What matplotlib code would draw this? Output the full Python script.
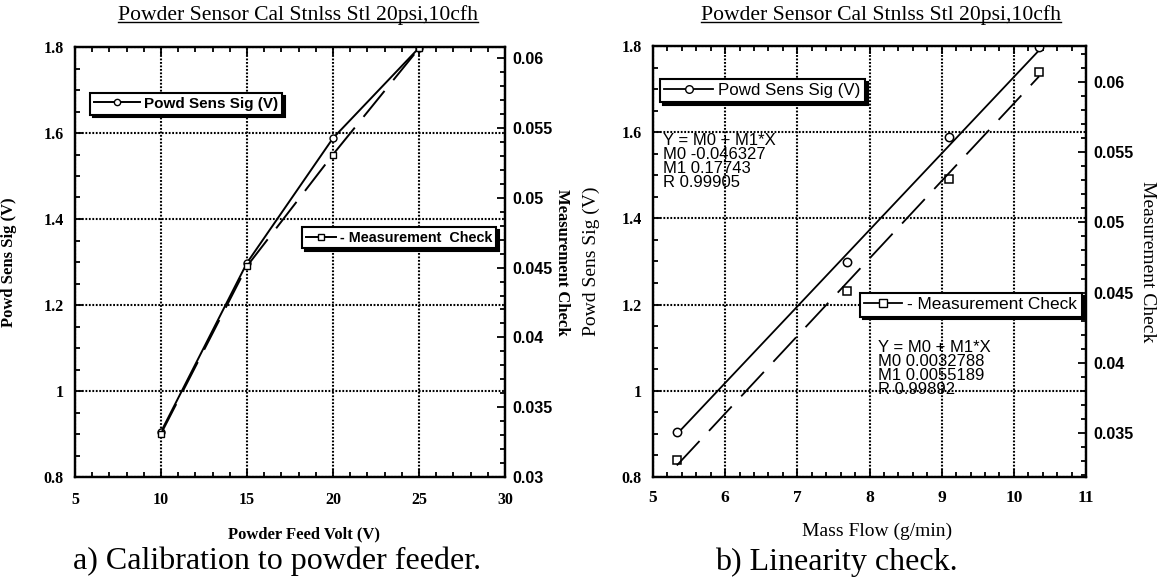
import matplotlib
matplotlib.use('Agg')
import matplotlib.pyplot as plt
from matplotlib.lines import Line2D
from matplotlib.ticker import MultipleLocator

# data
feed_volt = [10, 15, 20, 25]
mass_flow = [5.33, 7.69, 9.10, 10.35]
powd_sig = [0.905, 1.298, 1.588, 1.798]
meas_check = [0.0331, 0.0451, 0.0531, 0.0607]

# linear fits shown on panel b (M0, M1, R)
fit_powd = [-0.046327, 0.17743, 0.99905]
fit_meas = [0.0032788, 0.0055189, 0.99892]

title = "Powder Sensor Cal Stnlss Stl 20psi,10cfh"
volt_ticks = [5, 10, 15, 20, 25, 30]
flow_ticks = [5, 6, 7, 8, 9, 10, 11]
sig_ticks = [0.8, 1.0, 1.2, 1.4, 1.6, 1.8]
sig_labels = ['0.8', '1', '1.2', '1.4', '1.6', '1.8']
chk_ticks_a = [0.03, 0.035, 0.04, 0.045, 0.05, 0.055, 0.06]
chk_ticks_b = [0.035, 0.04, 0.045, 0.05, 0.055, 0.06]

plt.rcParams['lines.scale_dashes'] = False
SERIF = 'Liberation Serif'
SANS = 'Liberation Sans'
W, H = 1161, 580
fig = plt.figure(figsize=(W / 100, H / 100), dpi=100)
fig.patch.set_facecolor('white')

DASH = (24, 10)
GRID = dict(color='k', linewidth=1.5, dashes=(1.3, 1.2))


def px_axes(x0, y0, x1, y1):
    return fig.add_axes([x0 / W, 1 - y1 / H, (x1 - x0) / W, (y1 - y0) / H])


def style(ax, ax2, big):
    for a in (ax, ax2):
        for s in a.spines.values():
            s.set_linewidth(1.6)
    ax.grid(True, which='major', **GRID)
    ax.set_axisbelow(True)
    ax.tick_params(which='both', direction='in', top=True, right=False, width=1.3)
    ax.tick_params(which='major', length=6)
    ax.tick_params(which='minor', length=3.5)
    ax.tick_params(axis='x', pad=9 if big else 11)
    ax.tick_params(axis='y', pad=8)
    ax2.tick_params(which='both', direction='in', left=False, right=True, width=1.3, pad=5.5)
    ax2.tick_params(which='major', length=6)
    ax2.tick_params(which='minor', length=3.5)


def fig_text(x, y, s, **kw):
    return fig.text(x / W, 1 - y / H, s, **kw)


def underline(t):
    fig.canvas.draw()
    bb = t.get_window_extent()
    yy = bb.y0 + 3
    fig.add_artist(Line2D([bb.x0 / W, bb.x1 / W], [yy / H, yy / H],
                          transform=fig.transFigure, color='k', linewidth=1.0))


def legend_at(ax, handle, label, x, y, size, weight, hl):
    leg = ax.legend(handles=[handle], labels=[label], loc='upper left',
                    bbox_to_anchor=(x / W, 1 - y / H),
                    bbox_transform=fig.transFigure, fancybox=False, framealpha=1,
                    edgecolor='k', shadow={'color': 'k', 'alpha': 1},
                    prop={'family': SANS, 'size': size, 'weight': weight},
                    handlelength=hl, handletextpad=0.3, borderpad=0.25,
                    borderaxespad=0, numpoints=1)
    leg.get_frame().set_linewidth(1.5)
    return leg


# ---------------- panel a ----------------
ax = px_axes(75, 47, 505, 477)
ax2 = ax.twinx()
ax.plot(feed_volt, powd_sig, color='k', lw=1.4, marker='o', ms=5, mfc='white', mew=1.0, zorder=3)
ax2.plot(feed_volt, meas_check, color='k', lw=1.4, dashes=DASH, marker='s', ms=5,
         mfc='white', mew=1.0)
ax.set_xlim(5, 30)
ax.set_ylim(0.8, 1.8)
ax2.set_ylim(0.03, 0.0608)
ax.set_xticks(volt_ticks)
ax.set_xticklabels([str(v) for v in volt_ticks], family=SERIF, fontweight='bold', fontsize=11.5)
ax.set_yticks(sig_ticks)
ax.set_yticklabels(sig_labels, family=SERIF, fontweight='bold', fontsize=11.5)
ax2.set_yticks(chk_ticks_a)
ax2.set_yticklabels(['%g' % v for v in chk_ticks_a], family=SANS, fontweight='bold', fontsize=11.5)
ax.xaxis.set_minor_locator(MultipleLocator(1))
ax.yaxis.set_minor_locator(MultipleLocator(0.05))
ax2.yaxis.set_minor_locator(MultipleLocator(0.001))
style(ax, ax2, False)
ax.set_xlabel('Powder Feed Volt (V)', family=SERIF, fontweight='bold', fontsize=12)
ax.xaxis.set_label_coords(0.533, -0.115)
ax.set_ylabel('Powd Sens Sig (V)', family=SERIF, fontweight='bold', fontsize=12)
ax.yaxis.set_label_coords(-0.135, 0.5)
ax2.set_ylabel('Measurement Check', family=SERIF, fontweight='bold', fontsize=12, rotation=270,
               va='center')
ax2.yaxis.set_label_coords(1.133, 0.5)

h1 = Line2D([], [], color='k', lw=1.4, marker='o', ms=4.5, mfc='white', mew=1.0)
h2 = Line2D([], [], color='k', lw=1.4, marker='s', ms=4.5, mfc='white', mew=1.0)
leg_a1 = legend_at(ax2, h1, 'Powd Sens Sig (V)', 90, 93, 11, 'bold', 3.0)
ax2.add_artist(leg_a1)
legend_at(ax2, h2, '- Measurement  Check', 302, 227, 10.4, 'bold', 2.1)

# ---------------- panel b ----------------
bx = px_axes(653, 46, 1086, 477)
bx2 = bx.twinx()
x_fit = [min(mass_flow), max(mass_flow)]
bx.plot(mass_flow, powd_sig, ls='none', marker='o', ms=6, mfc='white', mec='k', mew=1.1, zorder=3)
bx.plot(x_fit, [fit_powd[0] + fit_powd[1] * x for x in x_fit], color='k', lw=1.3)
bx2.plot(mass_flow, meas_check, ls='none', marker='s', ms=6, mfc='white', mec='k', mew=1.1)
bx2.plot(x_fit, [fit_meas[0] + fit_meas[1] * x for x in x_fit], color='k', lw=1.3, dashes=DASH)
bx.set_xlim(5, 11)
bx.set_ylim(0.8, 1.8)
bx2.set_ylim(0.03187, 0.06256)
bx.set_xticks(flow_ticks)
bx.set_xticklabels([str(v) for v in flow_ticks], family=SERIF, fontweight='bold', fontsize=12.5)
bx.set_yticks(sig_ticks)
bx.set_yticklabels(sig_labels, family=SERIF, fontweight='bold', fontsize=11.5)
bx2.set_yticks(chk_ticks_b)
bx2.set_yticklabels(['%g' % v for v in chk_ticks_b], family=SANS, fontweight='bold', fontsize=11.5)
bx.xaxis.set_minor_locator(MultipleLocator(0.2))
bx.yaxis.set_minor_locator(MultipleLocator(0.05))
bx2.yaxis.set_minor_locator(MultipleLocator(0.001))
style(bx, bx2, True)
bx.set_xlabel('Mass Flow (g/min)', family=SERIF, fontsize=14)
bx.xaxis.set_label_coords(0.517, -0.107)
bx.set_ylabel('Powd Sens Sig (V)', family=SERIF, fontsize=14)
bx.yaxis.set_label_coords(-0.122, 0.5)
bx2.set_ylabel('Measurement Check', family=SERIF, fontsize=14, rotation=270, va='center')
bx2.yaxis.set_label_coords(1.141, 0.5)

h3 = Line2D([], [], color='k', lw=1.3, marker='o', ms=5.5, mfc='white', mew=1.0)
h4 = Line2D([], [], color='k', lw=1.3, marker='s', ms=5.5, mfc='white', mew=1.0)
leg_b1 = legend_at(bx2, h3, 'Powd Sens Sig (V)', 660, 79, 12.2, 'normal', 2.9)
bx2.add_artist(leg_b1)
legend_at(bx2, h4, '- Measurement Check', 860, 293, 12.4, 'normal', 2.2)

txt1 = 'Y = M0 + M1*X\nM0 %g\nM1 %g\nR %g' % tuple(fit_powd)
txt2 = 'Y = M0 + M1*X\nM0 %.7f\nM1 %.7f\nR %g' % tuple(fit_meas)
fig_text(663, 133, txt1, family=SANS, fontsize=12, va='top', ha='left', linespacing=0.93)
fig_text(878, 340, txt2, family=SANS, fontsize=12, va='top', ha='left', linespacing=0.93)

# titles and captions
t1 = fig_text(298, 15, title, family=SERIF, fontsize=15.6, ha='center', va='center')
t2 = fig_text(881, 15, title, family=SERIF, fontsize=15.6, ha='center', va='center')
fig_text(73, 561, 'a) Calibration to powder feeder.', family=SERIF, fontsize=23, ha='left', va='center')
fig_text(715, 562, 'b) Linearity check.', family=SERIF, fontsize=23, ha='left', va='center')
underline(t1)
underline(t2)

fig.savefig('out.png', dpi=100)
